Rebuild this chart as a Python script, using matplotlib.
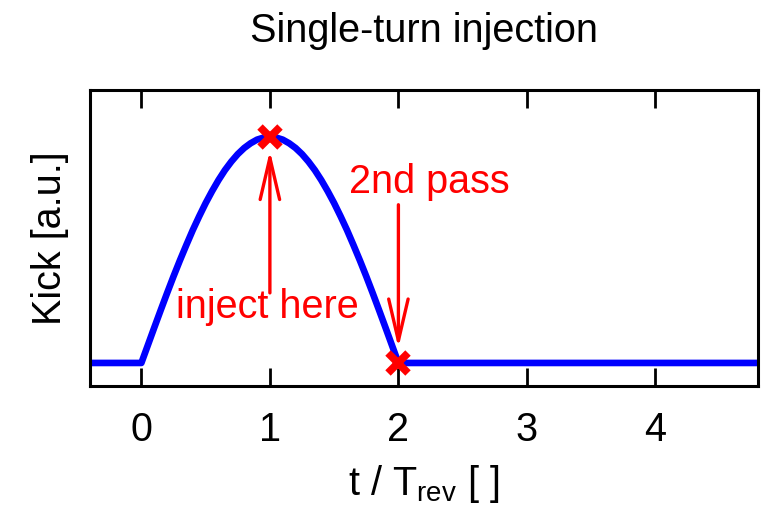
import matplotlib
matplotlib.use("Agg")
import matplotlib.pyplot as plt

plt.rcParams['font.family'] = ['Liberation Sans', 'DejaVu Sans']
plt.rcParams['mathtext.fontset'] = 'custom'
plt.rcParams['mathtext.rm'] = 'Liberation Sans'
plt.rcParams['mathtext.it'] = 'Liberation Sans'

# Kicker waveform: flat, half-sine pulse over two revolutions, flat again
t_rev = [-0.4, 0.0, 0.05, 0.1, 0.15, 0.2, 0.25, 0.3, 0.35, 0.4, 0.45, 0.5,
         0.55, 0.6, 0.65, 0.7, 0.75, 0.8, 0.85, 0.9, 0.95, 1.0,
         1.05, 1.1, 1.15, 1.2, 1.25, 1.3, 1.35, 1.4, 1.45, 1.5,
         1.55, 1.6, 1.65, 1.7, 1.75, 1.8, 1.85, 1.9, 1.95, 2.0, 4.8]
kick = [0.0, 0.0, 0.078, 0.156, 0.233, 0.309, 0.383, 0.454, 0.522, 0.588, 0.649, 0.707,
        0.760, 0.809, 0.853, 0.891, 0.924, 0.951, 0.972, 0.988, 0.997, 1.0,
        0.997, 0.988, 0.972, 0.951, 0.924, 0.891, 0.853, 0.809, 0.760, 0.707,
        0.649, 0.588, 0.522, 0.454, 0.383, 0.309, 0.233, 0.156, 0.078, 0.0, 0.0]

# Passes of the injected beam through the kicker
pass_t = [1.0, 2.0]
pass_kick = [1.0, 0.0]

xticks = [0, 1, 2, 3, 4]

FS = 28.5

fig = plt.figure(figsize=(7.69, 5.11), dpi=100)
ax = fig.add_axes([0.117, 0.2446, 0.869, 0.5794])

ax.plot(t_rev, kick, color='#0000ff', lw=4.8, solid_joinstyle='round', zorder=2)
ax.plot(pass_t, pass_kick, ls='none', marker='x', ms=14, mew=5.5,
        color='#ff0000', zorder=3)

red = '#ff0000'
arrow = dict(arrowstyle='->,head_length=3.0,head_width=0.7',
             color=red, lw=2.4, shrinkA=0, shrinkB=0)
ax.annotate('', xy=(1.0, 0.94), xytext=(1.0, 0.31), arrowprops=arrow)
ax.annotate('', xy=(2.0, 0.066), xytext=(2.0, 0.70), arrowprops=arrow)
ax.text(0.98, 0.20, 'inject here', color=red, fontsize=FS,
        ha='center', va='baseline')
ax.text(2.24, 0.75, '2nd pass', color=red, fontsize=FS,
        ha='center', va='baseline')

ax.set_xlim(-0.4, 4.8)
ax.set_ylim(-0.102, 1.208)
ax.set_xticks(xticks)
ax.set_xticklabels([str(v) for v in xticks])
ax.set_yticks([])
ax.tick_params(axis='x', direction='in', top=True, bottom=True,
               length=13, width=2, labelsize=FS, pad=18)
for s in ax.spines.values():
    s.set_linewidth(2.2)

ax.set_xlabel(r't / T$_{\mathrm{rev}}$ [ ]', fontsize=FS, labelpad=10)
fig.text(0.065, 0.534, 'Kick [a.u.]', rotation=90, fontsize=FS,
         ha='center', va='center')
fig.text(0.5515, 0.918, 'Single-turn injection', fontsize=FS,
         ha='center', va='baseline')

fig.savefig('out.png', dpi=100)
